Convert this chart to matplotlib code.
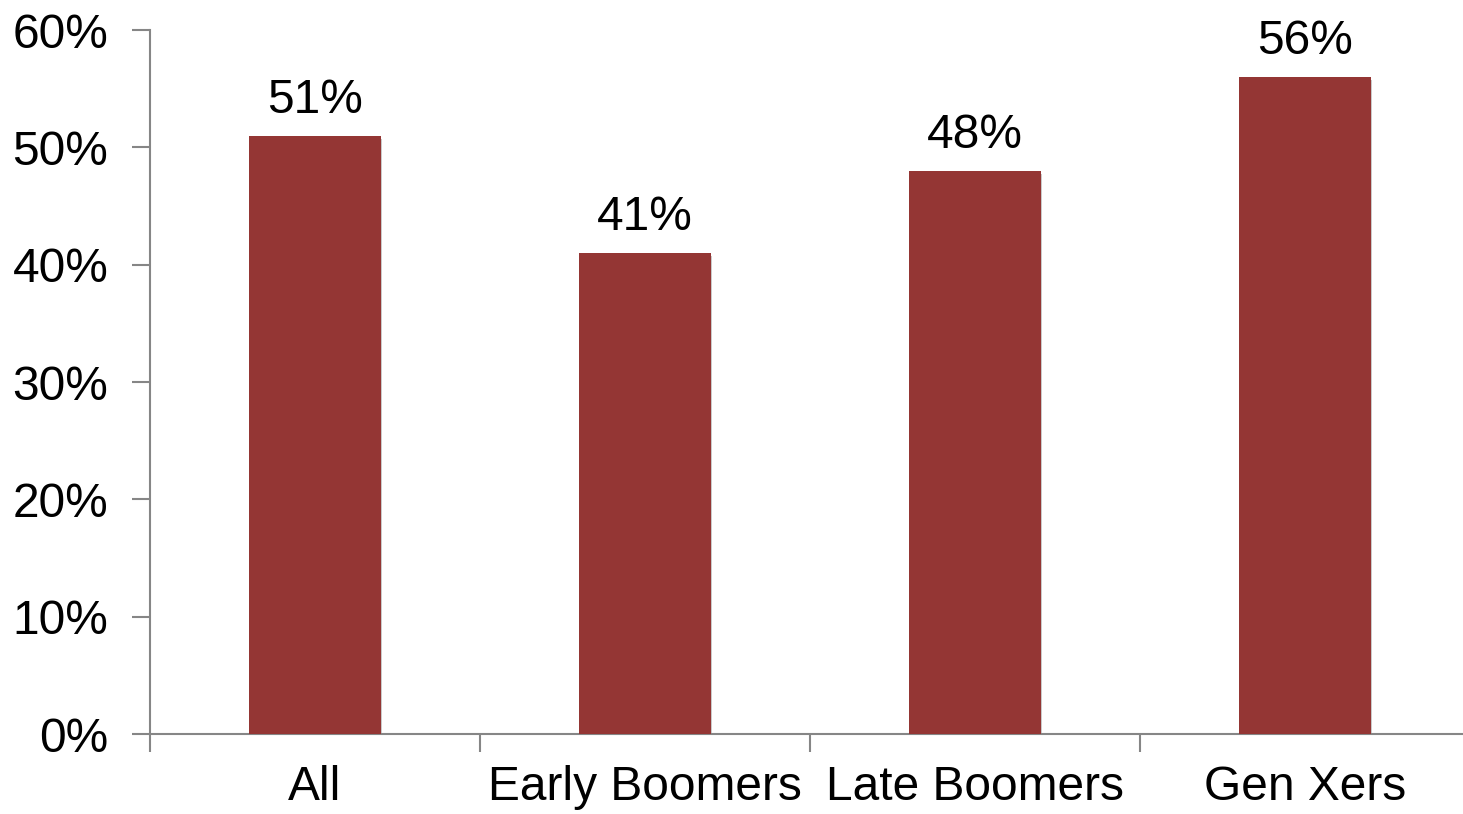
import matplotlib
matplotlib.use("Agg")
import matplotlib.pyplot as plt
import matplotlib.patheffects as pe
from matplotlib.ticker import FuncFormatter

categories = ["All", "Early Boomers", "Late Boomers", "Gen Xers"]
values = [51, 41, 48, 56]
y_ticks = [0, 10, 20, 30, 40, 50, 60]

plt.rcParams["font.family"] = ["Liberation Sans", "DejaVu Sans"]

W, H = 1463, 814
fig = plt.figure(figsize=(W / 100, H / 100), dpi=100)
ax = fig.add_axes([150 / W, 80 / H, 1320 / W, 704 / H])

bar_color = "#943634"
axis_color = "#868686"
fs = 34.5

x = range(len(categories))
bars = ax.bar(x, values, width=0.4, color=bar_color, zorder=3)
for b in bars:
    b.set_path_effects([pe.SimplePatchShadow(offset=(0.5, -2.5), shadow_rgbFace="#8a8a8a", alpha=0.45),
                        pe.Normal()])

for xi, v in zip(x, values):
    ax.annotate(f"{v}%", (xi, v), xytext=(0, 9), textcoords="offset points",
                ha="center", va="bottom", fontsize=fs, color="black")

ax.set_xlim(-0.5, len(categories) - 0.5)
ax.set_ylim(0, 60)
ax.set_yticks(y_ticks)
ax.yaxis.set_major_formatter(FuncFormatter(lambda v, p: f"{v:.0f}%"))

# category labels in the middle, tick marks on the boundaries
ax.set_xticks(list(x))
ax.set_xticklabels(categories, fontsize=fs)
ax.tick_params(axis="x", which="major", length=0, pad=22)
ax.set_xticks([i - 0.5 for i in range(len(categories) + 1)], minor=True)
ax.tick_params(axis="x", which="minor", length=13, width=1.5, color=axis_color, direction="out")
ax.tick_params(axis="y", labelsize=fs, length=13, width=1.5, color=axis_color, pad=17)

for s in ["top", "right"]:
    ax.spines[s].set_visible(False)
for s in ["left", "bottom"]:
    ax.spines[s].set_color(axis_color)
    ax.spines[s].set_linewidth(1.5)

fig.savefig("out.png", dpi=100)
